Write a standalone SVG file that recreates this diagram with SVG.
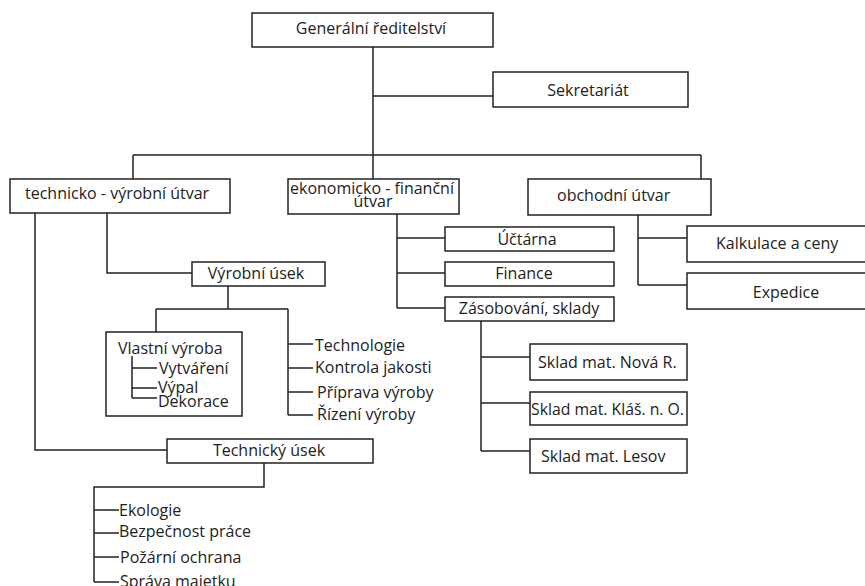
<svg xmlns="http://www.w3.org/2000/svg" width="865" height="586" viewBox="0 0 865 586">
<style>
.box{fill:#fff;stroke:#222;stroke-width:1.5}
.c{fill:none;stroke:#222;stroke-width:1.5}
text{font-family:"Open Sans","Noto Sans",sans-serif;font-size:16px;fill:#222}
.m{text-anchor:middle}
</style>
<rect width="865" height="586" fill="#fff"/>
<g id="connectors">
<path class="c" d="M373 47V155M373 96H493M133 155H701M133 155V179M373 155V179M701 155V179"/>
<path class="c" d="M35 213V450H167M107 213V273H192"/>
<path class="c" d="M228 286V309M156 309H288M156 309V332M288 309V415M288 344H313M288 368H313M288 392H313M288 415H313"/>
<path class="c" d="M264 463V487H94V582M94 510H119M94 533H119M94 557H119M94 582H119"/>
<path class="c" d="M397 214V308M397 238H445M397 273H445M397 308H445"/>
<path class="c" d="M638 213V285M638 238H687M638 285H687"/>
<path class="c" d="M481 321V451M481 357H530M481 403H530M481 451H530"/>
</g>
<g id="gen"><rect class="box" x="252" y="13" width="241" height="34"/><text class="m" x="371" y="34">Generální ředitelství</text></g>
<g id="sekretariat"><rect class="box" x="493" y="72" width="195" height="35"/><text class="m" x="588" y="96">Sekretariát</text></g>
<g id="tech"><rect class="box" x="10" y="179" width="220" height="34"/><text x="25" y="199">technicko - výrobní útvar</text></g>
<g id="eko"><rect class="box" x="288" y="179" width="171" height="35"/><text x="290" y="194">ekonomicko - finanční</text><text class="m" x="373" y="207">útvar</text></g>
<g id="obch"><rect class="box" x="528" y="179" width="183" height="36"/><text x="557" y="201">obchodní útvar</text></g>
<g id="vyrobni-usek"><rect class="box" x="192" y="262" width="133" height="24"/><text class="m" x="256" y="279">Výrobní úsek</text></g>
<g id="vlastni"><rect class="box" x="106" y="332" width="136" height="84"/><path class="c" d="M132 356V398M132 368H157M132 388H157M132 398H157"/><text x="118" y="354">Vlastní výroba</text><text x="159" y="374">Vytváření</text><text x="158" y="393">Výpal</text><text x="158" y="407">Dekorace</text></g>
<g id="vyroba-list"><text x="315" y="351">Technologie</text><text x="315" y="373">Kontrola jakosti</text><text x="317" y="398">Příprava výroby</text><text x="317" y="420">Řízení výroby</text></g>
<g id="technicky-usek"><rect class="box" x="167" y="439" width="206" height="24"/><text class="m" x="269" y="456">Technický úsek</text></g>
<g id="technicky-list"><text x="119" y="516">Ekologie</text><text x="119" y="537">Bezpečnost práce</text><text x="120" y="563">Požární ochrana</text><text x="120" y="587">Správa majetku</text></g>
<g id="uctarna"><rect class="box" x="445" y="227" width="169" height="24"/><text class="m" x="527" y="245">Účtárna</text></g>
<g id="finance"><rect class="box" x="445" y="262" width="169" height="24"/><text class="m" x="524" y="279">Finance</text></g>
<g id="zasobovani"><rect class="box" x="445" y="297" width="169" height="24"/><text class="m" x="529" y="314">Zásobování, sklady</text></g>
<g id="kalkulace"><rect class="box" x="687" y="226" width="180" height="36"/><text x="716" y="249">Kalkulace a ceny</text></g>
<g id="expedice"><rect class="box" x="687" y="273" width="180" height="36"/><text class="m" x="786" y="298">Expedice</text></g>
<g id="sklad1"><rect class="box" x="530" y="344" width="157" height="36"/><text x="538" y="368">Sklad mat. Nová R.</text></g>
<g id="sklad2"><rect class="box" x="530" y="392" width="157" height="33"/><text x="531" y="415" textLength="153" lengthAdjust="spacingAndGlyphs">Sklad mat. Kláš. n. O.</text></g>
<g id="sklad3"><rect class="box" x="530" y="439" width="157" height="34"/><text x="541" y="462">Sklad mat. Lesov</text></g>
</svg>
